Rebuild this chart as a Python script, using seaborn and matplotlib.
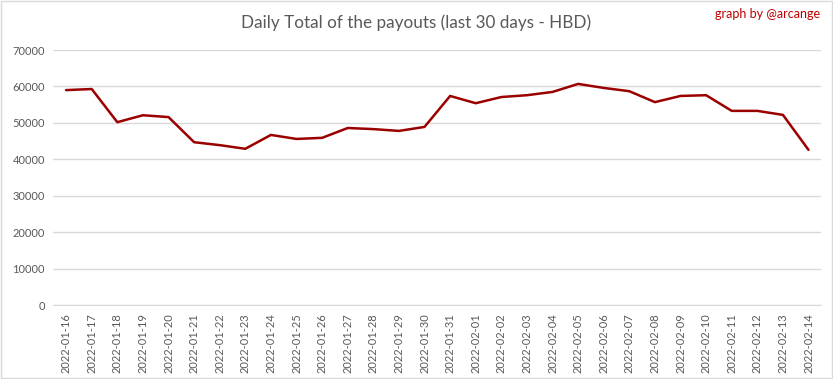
import pandas as pd
import numpy as np
import seaborn as sns
import matplotlib.pyplot as plt

dates = pd.date_range("2022-01-16", "2022-02-14").strftime("%Y-%m-%d").tolist()
payouts = [59000, 59300, 50200, 52100, 51600, 44700, 43900, 42900, 46700, 45600,
           45900, 48600, 48300, 47800, 48900, 57400, 55400, 57100, 57600, 58500,
           60700, 59600, 58700, 55700, 57400, 57600, 53300, 53300, 52200, 42600]
yticks = list(range(0, 70001, 10000))

df = pd.DataFrame({"date": dates, "payout": payouts})

sns.set_style("white")
plt.rcParams["font.family"] = ["Lato", "DejaVu Sans"]

fig = plt.figure(figsize=(8.33, 3.79), dpi=100)
ax = fig.add_axes([0.064, 0.195, 0.922, 0.673])
sns.lineplot(data=df, x="date", y="payout", ax=ax, color="#9b0000", linewidth=1.8, sort=False)

ax.set_xlim(-0.5, len(dates) - 0.5)
ax.set_ylim(0, 70000)
ax.set_yticks(yticks)
ax.set_yticklabels([str(v) for v in yticks], fontsize=8, color="#595959")
ax.set_xticks(range(len(dates)))
ax.set_xticklabels(dates, rotation=90, fontsize=8, color="#595959")
ax.tick_params(axis="both", length=0, pad=6)
ax.grid(axis="y", color="#d9d9d9", linewidth=1)
ax.set_axisbelow(True)
for s in ["top", "right", "left"]:
    ax.spines[s].set_visible(False)
ax.spines["bottom"].set_color("#d9d9d9")
ax.set_xlabel("")
ax.set_ylabel("")

fig.text(0.499, 0.94, "Daily Total of the payouts (last 30 days - HBD)", ha="center", va="center",
         fontsize=12.3, color="#595959")
fig.text(0.985, 0.962, "graph by @arcange", ha="right", va="center", fontsize=9, color="#c00000")
fig.patches.append(plt.Rectangle((0.001, 0.002), 0.998, 0.996, transform=fig.transFigure,
                                 fill=False, edgecolor="#d9d9d9", linewidth=1))

fig.savefig("out.png", dpi=100)
